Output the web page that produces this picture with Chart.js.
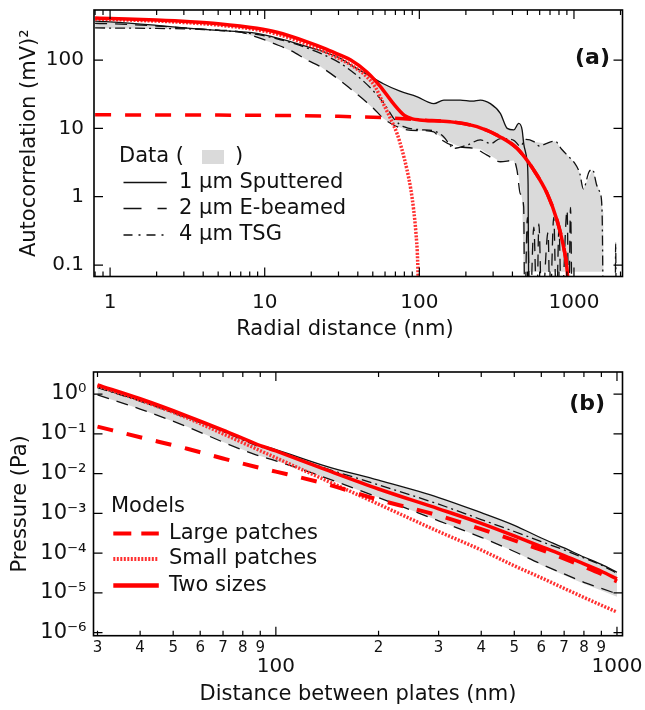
<!DOCTYPE html>
<html>
<head>
<meta charset="utf-8">
<script src="https://cdn.jsdelivr.net/npm/chart.js@4.4.0/dist/chart.umd.min.js"></script>
<style>
  html, body { margin: 0; padding: 0; background: #fff; overflow: hidden; }
  #wrapA { position: absolute; left: 0; top: 0; width: 645px; height: 350px; }
  #wrapB { position: absolute; left: 0; top: 350px; width: 645px; height: 360px; }
</style>
</head>
<body>
<div id="wrapA"><canvas id="chartA" width="645" height="350"></canvas></div>
<div id="wrapB"><canvas id="chartB" width="645" height="360"></canvas></div>
<script>
// ---- (a) autocorrelation vs radial distance ----
// data: 1 um sputtered (solid)
var aSputX = [0.8, 1, 2, 3.3, 5, 8.9, 13, 18.8, 25, 30.8, 37.6, 45.8, 58.5, 75, 97, 115, 124, 144, 184, 220, 248, 288, 334, 370, 408, 439, 462, 473, 497, 505, 510];
var aSputY = [370, 362, 322, 291, 272, 246, 200, 157, 128, 106, 80, 62, 45, 35, 29, 24, 23, 26, 26, 25, 26, 23, 16.6, 10, 9.5, 11.8, 9.5, 6.0, 3.4, 1.5, 0.02];
// data: 2 um e-beamed (dashed)
var aEbeamX = [0.8, 1, 2, 3.3, 5, 6.9, 9, 11.4, 15, 18.8, 22.9, 30.8, 35.8, 45.8, 50.6, 58.5, 68.2, 83.3, 100, 124, 136, 175, 225, 274, 334, 408, 428, 450, 473, 480, 500, 520, 550, 575, 593, 620, 680, 700, 740, 770, 800, 830, 903, 925, 950, 970];
var aEbeamY = [344, 340, 315, 291, 275, 259, 215, 175, 135, 100, 80, 50, 38, 24, 19.6, 14, 11.2, 9.5, 9.3, 8.9, 7.1, 5.4, 5.1, 4.06, 3.25, 3.4, 2.45, 1.1, 0.71, 0.02, 0.5, 0.02, 0.36, 0.02, 0.4, 0.02, 0.3, 0.02, 0.5, 0.02, 0.35, 0.02, 0.64, 0.02, 0.7, 0.02];
// data: 4 um TSG (dash-dot)
var aTsgX = [0.8, 2, 4, 8, 12, 18.8, 25, 30.8, 40, 50, 60, 70, 80, 100, 124, 144, 167, 204, 248, 290, 334, 408, 450, 490, 550, 600, 660, 755, 830, 910, 1000, 1090, 1150, 1250, 1320, 1400, 1480, 1520, 1545, 1600, 1850, 1860, 1875];
var aTsgY = [295, 290, 280, 245, 205, 150, 115, 90, 58, 36, 22, 13, 10.5, 9.6, 9.2, 7.5, 5.1, 5.7, 6.8, 6.0, 7.1, 6.7, 5.5, 6.9, 6.4, 5.5, 6.0, 6.5, 5.0, 4.0, 3.2, 2.2, 1.3, 2.3, 2.5, 1.5, 1.1, 0.6, 0.02, null, 0.02, 0.21, 0.02];
// grey envelope of the data
var aBandX = [0.8, 1, 2, 3.3, 5, 6.9, 8.9, 11.4, 15, 18.8, 23, 30.8, 36, 45.8, 58.5, 68, 83, 97, 124, 144, 184, 248, 288, 334, 370, 408, 439, 462, 473, 480, 550, 660, 755, 910, 1000, 1090, 1150, 1320, 1480, 1540, 1555];
var aBandHi = [370, 362, 322, 291, 272, 260, 246, 215, 180, 157, 135, 106, 85, 62, 45, 38, 32, 29, 23, 26, 26, 26, 23, 16.6, 10, 9.5, 11.8, 9.5, 7.0, 6.9, 6.4, 6.0, 6.5, 4.0, 3.2, 2.2, 1.3, 2.5, 1.1, 0.6, 0.6];
var aBandLo = [295, 292, 288, 282, 268, 255, 215, 175, 135, 100, 80, 50, 38, 24, 14, 11.2, 9.5, 9.3, 8.9, 7.0, 5.3, 5.0, 4.0, 3.25, 3.3, 3.4, 2.0, 0.9, 0.08, 0.08, 0.08, 0.08, 0.08, 0.08, 0.08, 0.08, 0.08, 0.08, 0.08, 0.08, 0.08];
// models
var aTwoX = [0.8, 1, 2, 3.3, 5, 8.9, 12, 18.8, 25, 30.8, 36, 45.8, 56, 68, 80, 90, 100, 158, 236, 334, 428, 550, 670, 778, 850, 903, 930];
var aTwoY = [412, 405, 385, 364, 340, 291, 255, 185, 145, 118, 100, 67, 41, 23, 15.5, 13.8, 13.3, 12.5, 10.6, 7.5, 5.1, 2.45, 1.12, 0.45, 0.2, 0.085, 0.03];
var aLargeX = [0.8, 10, 30, 60, 90, 100, 158, 236, 334, 428, 550, 670, 778, 850, 903, 930];
var aLargeY = [15.8, 15.5, 15.0, 14.3, 13.6, 13.3, 12.5, 10.6, 7.5, 5.1, 2.45, 1.12, 0.45, 0.2, 0.085, 0.03];
var aSmallX = [0.8, 1, 2, 3.3, 5, 8.9, 12, 18.8, 25, 30.8, 36, 45.7, 52, 58.5, 65, 71.6, 77, 83.3, 88, 91.9, 95, 97.5, 99];
var aSmallY = [398, 392, 372, 350, 325, 277, 240, 170, 130, 103, 85, 57, 40, 23, 14, 8.5, 5, 2.45, 1.3, 0.64, 0.3, 0.117, 0.03];
var aXTicks = [0.8, 0.9, 1, 2, 3, 4, 5, 6, 7, 8, 9, 10, 20, 30, 40, 50, 60, 70, 80, 90, 100, 200, 300, 400, 500, 600, 700, 800, 900, 1000, 2000];
var aYTicks = [0.1, 1, 10, 100];

// ---- (b) pressure vs plate distance ----
var bX = [30, 40, 55, 70, 87, 100, 140, 200, 300, 400, 500, 600, 700, 800, 900, 1000];
var bSput = [1.5, 0.68, 0.26, 0.12, 0.056, 0.04, 0.0155, 0.0068, 0.0025, 0.00104, 5.0e-4, 2.4e-4, 1.35e-4, 8.0e-5, 5.2e-5, 3.3e-5];
var bEbeam = [0.95, 0.42, 0.15, 0.062, 0.03, 0.021, 0.0078, 0.0025, 6.5e-4, 2.5e-4, 1.1e-4, 5.3e-5, 3.0e-5, 1.85e-5, 1.3e-5, 9.5e-6];
var bTsg = [1.45, 0.66, 0.25, 0.115, 0.052, 0.036, 0.0135, 0.0052, 0.0017, 7.0e-4, 3.5e-4, 1.95e-4, 1.2e-4, 7.6e-5, 5.0e-5, 3.1e-5];
var bBandLo = [0.95, 0.42, 0.15, 0.062, 0.03, 0.021, 0.0078, 0.0025, 6.5e-4, 2.5e-4, 1.1e-4, 5.0e-5, 2.8e-5, 1.7e-5, 1.15e-5, 8.0e-6];
var bLarge = [0.152, 0.082, 0.042, 0.024, 0.0148, 0.0112, 0.0055, 0.0022, 8.8e-4, 4.0e-4, 2.1e-4, 1.2e-4, 7.3e-5, 4.6e-5, 3.0e-5, 1.95e-5];
var bSmall = [1.6, 0.7, 0.25, 0.1, 0.043, 0.025, 0.0068, 0.0017, 3.5e-4, 1.2e-4, 4.8e-5, 2.4e-5, 1.3e-5, 7.7e-6, 4.9e-6, 3.3e-6];
var bTwo = [1.7, 0.76, 0.28, 0.124, 0.057, 0.037, 0.0125, 0.0041, 0.0013, 5.6e-4, 2.7e-4, 1.45e-4, 8.7e-5, 5.4e-5, 3.5e-5, 2.25e-5];
var bXTicks = [30, 40, 50, 60, 70, 80, 90, 100, 200, 300, 400, 500, 600, 700, 800, 900, 1000];
var bYTicks = [1e-6, 1e-5, 1e-4, 1e-3, 1e-2, 1e-1, 1];

var FONT = '"DejaVu Sans", "Liberation Sans", Arial, sans-serif';
var INK = '#111';
var RED = '#ff0000';
var DOT = '#ff3030';
var BAND = '#dadada';

function pts(xs, ys) {
  return xs.map(function (x, i) { return { x: x, y: ys[i] }; });
}
function isDecade(v) {
  var l = Math.log10(v);
  return Math.abs(l - Math.round(l)) < 1e-6;
}
function fixTicks(list) {
  return function (s) {
    s.ticks = list.map(function (v) { return { value: v, major: isDecade(v) }; });
  };
}
var SUP = { '-': '\u207B', '0': '\u2070', '1': '\u00B9', '2': '\u00B2', '3': '\u00B3', '4': '\u2074', '5': '\u2075', '6': '\u2076', '7': '\u2077', '8': '\u2078', '9': '\u2079' };
function pow10Label(v) {
  var e = String(Math.round(Math.log10(v)));
  return '10' + e.split('').map(function (c) { return SUP[c]; }).join('');
}

function line(data, color, width, dash) {
  return { data: data, borderColor: color, borderWidth: width, borderDash: dash || [],
    pointRadius: 0, fill: false, cubicInterpolationMode: 'monotone' };
}
function band(data, target) {
  return { data: data, borderColor: 'rgba(0,0,0,0)', borderWidth: 0, backgroundColor: BAND,
    pointRadius: 0, fill: target, tension: 0 };
}

// frame round the plot with inward ticks on all four sides
var framePlugin = {
  id: 'frameTicks',
  afterDatasetsDraw: function (chart) {
    var ctx = chart.ctx, a = chart.chartArea;
    var xs = chart.scales.x, ys = chart.scales.y;
    ctx.save();
    ctx.strokeStyle = '#000';
    ctx.lineWidth = 1.2;
    ctx.beginPath();
    xs.ticks.forEach(function (t) {
      var px = xs.getPixelForValue(t.value);
      if (px < a.left || px > a.right) return;
      var len = isDecade(t.value) ? 9 : 5;
      ctx.moveTo(px, a.bottom); ctx.lineTo(px, a.bottom - len);
      ctx.moveTo(px, a.top); ctx.lineTo(px, a.top + len);
    });
    ys.ticks.forEach(function (t) {
      var py = ys.getPixelForValue(t.value);
      ctx.moveTo(a.left, py); ctx.lineTo(a.left + 9, py);
      ctx.moveTo(a.right, py); ctx.lineTo(a.right - 9, py);
    });
    ctx.stroke();
    ctx.lineWidth = 1.6;
    ctx.strokeRect(a.left, a.top, a.right - a.left, a.bottom - a.top);
    ctx.restore();
  }
};

function sample(ctx, x1, x2, y, color, width, dash) {
  ctx.beginPath();
  ctx.strokeStyle = color;
  ctx.lineWidth = width;
  ctx.setLineDash(dash || []);
  ctx.moveTo(x1, y);
  ctx.lineTo(x2, y);
  ctx.stroke();
  ctx.setLineDash([]);
}

var legendA = {
  id: 'legendA',
  afterDraw: function (chart) {
    var ctx = chart.ctx;
    ctx.save();
    ctx.font = '21px ' + FONT;
    ctx.textBaseline = 'middle';
    ctx.textAlign = 'left';
    ctx.fillStyle = INK;
    ctx.fillText('Data (', 119, 157);
    ctx.fillText(')', 235, 157);
    ctx.fillStyle = BAND;
    ctx.fillRect(202, 150, 22, 14);
    var rows = [
      { y: 182.5, text: '1 \u00B5m Sputtered', dash: [] },
      { y: 208.6, text: '2 \u00B5m E-beamed', dash: [18, 16] },
      { y: 235, text: '4 \u00B5m TSG', dash: [9, 6, 2, 6] }
    ];
    rows.forEach(function (r) {
      sample(ctx, 123.5, 166.7, r.y, INK, 1.5, r.dash);
      ctx.fillStyle = INK;
      ctx.fillText(r.text, 179, r.y);
    });
    ctx.font = 'bold 22px ' + FONT;
    ctx.textAlign = 'right';
    ctx.fillText('(a)', 610, 58);
    ctx.restore();
  }
};

var legendB = {
  id: 'legendB',
  afterDraw: function (chart) {
    var ctx = chart.ctx;
    ctx.save();
    ctx.font = '21px ' + FONT;
    ctx.textBaseline = 'middle';
    ctx.textAlign = 'left';
    ctx.fillStyle = INK;
    ctx.fillText('Models', 111, 156.5);
    var rows = [
      { y: 183.5, text: 'Large patches', color: RED, dash: [18, 10], w: 4 },
      { y: 209, text: 'Small patches', color: DOT, dash: [2, 1.5], w: 4 },
      { y: 235.6, text: 'Two sizes', color: RED, dash: [], w: 4.5 }
    ];
    rows.forEach(function (r) {
      sample(ctx, 113.3, 158.8, r.y, r.color, r.w, r.dash);
      ctx.fillStyle = INK;
      ctx.fillText(r.text, 169, r.y);
    });
    ctx.font = 'bold 22px ' + FONT;
    ctx.textAlign = 'right';
    ctx.fillText('(b)', 605, 54);
    ctx.restore();
  }
};

var common = {
  animation: false,
  responsive: false,
  plugins: { legend: { display: false }, tooltip: { enabled: false } },
  elements: { point: { radius: 0 } }
};

// ---- chart (a) ----
new Chart(document.getElementById('chartA'), {
  type: 'line',
  data: {
    datasets: [
      line(pts(aTwoX, aTwoY), RED, 3.5),
      line(pts(aSmallX, aSmallY), DOT, 3.5, [2, 1.5]),
      line(pts(aLargeX, aLargeY), RED, 3.5, [16, 14]),
      line(pts(aSputX, aSputY), INK, 1.3),
      line(pts(aEbeamX, aEbeamY), INK, 1.3, [12, 8]),
      line(pts(aTsgX, aTsgY), INK, 1.3, [10, 4, 2, 4]),
      band(pts(aBandX, aBandHi), '+1'),
      band(pts(aBandX, aBandLo), false)
    ]
  },
  options: Object.assign({}, common, {
    layout: { padding: { left: 0, right: 22.5, top: 10, bottom: 0 } },
    scales: {
      x: {
        type: 'logarithmic', min: 0.787, max: 2060,
        grid: { display: false, drawTicks: false }, border: { display: false },
        afterBuildTicks: fixTicks(aXTicks),
        afterFit: function (s) { s.height = 73.5; s.paddingLeft = 0; s.paddingRight = 0; },
        ticks: {
          autoSkip: false, maxRotation: 0, minRotation: 0, padding: 14, color: INK,
          font: { family: FONT, size: 20 },
          callback: function (v) { return isDecade(v) ? String(v) : ''; }
        },
        title: { display: true, text: 'Radial distance (nm)\u00A0\u00A0\u00A0\u00A0', color: INK,
          font: { family: FONT, size: 21 }, padding: { top: 0, bottom: 7.4 } }
      },
      y: {
        type: 'logarithmic', min: 0.068, max: 540,
        grid: { display: false, drawTicks: false }, border: { display: false },
        afterBuildTicks: fixTicks(aYTicks),
        afterFit: function (s) { s.width = 94; s.paddingTop = 0; s.paddingBottom = 0; },
        ticks: {
          padding: 10, color: INK, font: { family: FONT, size: 20 },
          callback: function (v) { return String(v); }
        },
        title: { display: true, text: 'Autocorrelation (mV)\u00B2', color: INK,
          font: { family: FONT, size: 21 }, padding: { top: 17.4, bottom: 0 } }
      }
    }
  }),
  plugins: [framePlugin, legendA]
});

// ---- chart (b) ----
new Chart(document.getElementById('chartB'), {
  type: 'line',
  data: {
    datasets: [
      line(pts(bX, bTwo), RED, 3.5),
      line(pts(bX, bLarge), RED, 4, [16, 14]),
      line(pts(bX, bSmall), DOT, 3.5, [2, 1.5]),
      line(pts(bX, bSput), INK, 1.3),
      line(pts(bX, bTsg), INK, 1.3, [10, 4, 2, 4]),
      line(pts(bX, bEbeam), INK, 1.3, [12, 8]),
      band(pts(bX, bSput), '+1'),
      band(pts(bX, bBandLo), false)
    ]
  },
  options: Object.assign({}, common, {
    layout: { padding: { left: 0, right: 22.5, top: 22, bottom: 0 } },
    scales: {
      x: {
        type: 'logarithmic', min: 29.2, max: 1038,
        grid: { display: false, drawTicks: false }, border: { display: false },
        afterBuildTicks: fixTicks(bXTicks),
        afterFit: function (s) { s.height = 74.3; s.paddingLeft = 0; s.paddingRight = 0; },
        ticks: {
          autoSkip: false, maxRotation: 0, minRotation: 0, padding: 3, color: INK,
          font: function (c) {
            var big = c.tick && isDecade(c.tick.value);
            return big ? { family: FONT, size: 20, lineHeight: 0.93 } : { family: FONT, size: 15 };
          },
          callback: function (v) {
            if (isDecade(v)) return ['', String(v)];
            return String(Math.round(v / Math.pow(10, Math.floor(Math.log10(v) + 1e-9))));
          }
        },
        title: { display: true, text: 'Distance between plates (nm)', color: INK,
          font: { family: FONT, size: 21 }, padding: { top: 0, bottom: 2.4 } }
      },
      y: {
        type: 'logarithmic', min: 8.4e-7, max: 3.58,
        grid: { display: false, drawTicks: false }, border: { display: false },
        afterBuildTicks: fixTicks(bYTicks),
        afterFit: function (s) { s.width = 93.5; s.paddingTop = 0; s.paddingBottom = 0; },
        ticks: {
          padding: 7, color: INK, font: { family: FONT, size: 21 },
          callback: function (v) { return pow10Label(v); }
        },
        title: { display: true, text: 'Pressure (Pa)', color: INK,
          font: { family: FONT, size: 21 }, padding: { top: 8.4, bottom: 0 } }
      }
    }
  }),
  plugins: [framePlugin, legendB]
});
</script>
</body>
</html>
